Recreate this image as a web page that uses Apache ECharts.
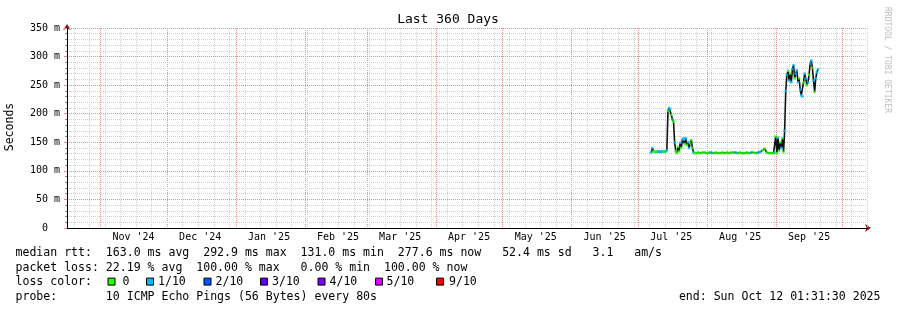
<!DOCTYPE html>
<html><head><meta charset="utf-8">
<script src="https://cdn.jsdelivr.net/npm/echarts@6/dist/echarts.min.js"></script>
<style>html,body{margin:0;padding:0;background:#fff}#c{width:897px;height:310px}</style>
</head><body><div id="c"></div>
<script>
// ---------- data ----------
const rangeStart = '2024-10-17 01:31:30';
const rangeEnd   = '2025-10-12 01:31:30';
const monthStarts = ['2024-11-01 00:00','2024-12-01 00:00','2025-01-01 00:00','2025-02-01 00:00','2025-03-01 00:00','2025-04-01 00:00','2025-05-01 00:00','2025-06-01 00:00','2025-07-01 00:00','2025-08-01 00:00','2025-09-01 00:00','2025-10-01 00:00'];
const monthLabelDates = ['2024-11-16 00:00','2024-12-16 00:00','2025-01-16 00:00','2025-02-16 00:00','2025-03-16 00:00','2025-04-16 00:00','2025-05-16 00:00','2025-06-16 00:00','2025-07-16 00:00','2025-08-16 00:00','2025-09-16 00:00'];
const monthLabels = ["Nov '24","Dec '24","Jan '25","Feb '25","Mar '25","Apr '25","May '25","Jun '25","Jul '25","Aug '25","Sep '25"];
const firstWeekLine = '2024-10-20 00:00';
const yTicks = [0, 50, 100, 150, 200, 250, 300, 350];

const rttTimes = [
 '2025-07-07 00:00','2025-07-07 12:00','2025-07-08 00:00','2025-07-08 12:00','2025-07-09 00:00','2025-07-09 12:00',
 '2025-07-10 00:00','2025-07-10 12:00','2025-07-11 00:00','2025-07-11 12:00','2025-07-12 00:00','2025-07-12 12:00',
 '2025-07-13 00:00','2025-07-13 12:00','2025-07-14 00:00','2025-07-14 12:00','2025-07-15 00:00','2025-07-15 12:00',
 '2025-07-16 00:00','2025-07-16 12:00','2025-07-17 00:00','2025-07-17 12:00','2025-07-18 00:00','2025-07-18 12:00',
 '2025-07-19 00:00','2025-07-19 12:00','2025-07-20 00:00','2025-07-20 12:00','2025-07-21 00:00','2025-07-21 12:00',
 '2025-07-22 00:00','2025-07-22 12:00','2025-07-23 00:00','2025-07-23 12:00','2025-07-24 00:00','2025-07-24 12:00',
 '2025-07-25 00:00','2025-07-25 12:00','2025-07-26 00:00','2025-07-26 12:00',
 '2025-07-27 00:00','2025-07-28 00:00','2025-07-29 00:00','2025-07-30 00:00','2025-07-31 00:00',
 '2025-08-01 00:00','2025-08-02 00:00','2025-08-03 00:00','2025-08-04 00:00','2025-08-05 00:00','2025-08-06 00:00',
 '2025-08-07 00:00','2025-08-08 00:00','2025-08-09 00:00','2025-08-10 00:00','2025-08-11 00:00','2025-08-12 00:00',
 '2025-08-13 00:00','2025-08-14 00:00','2025-08-15 00:00','2025-08-16 00:00','2025-08-17 00:00','2025-08-18 00:00',
 '2025-08-19 00:00','2025-08-20 00:00','2025-08-21 00:00','2025-08-22 00:00','2025-08-23 00:00','2025-08-24 00:00',
 '2025-08-25 00:00','2025-08-26 00:00','2025-08-27 00:00','2025-08-28 00:00','2025-08-29 00:00','2025-08-30 00:00',
 '2025-08-31 00:00','2025-08-31 12:00',
 '2025-09-01 00:00','2025-09-01 12:00','2025-09-02 00:00','2025-09-02 12:00','2025-09-03 00:00','2025-09-03 12:00',
 '2025-09-04 00:00','2025-09-04 12:00','2025-09-05 00:00','2025-09-05 12:00','2025-09-06 00:00','2025-09-06 12:00',
 '2025-09-07 00:00','2025-09-07 12:00','2025-09-08 00:00','2025-09-08 12:00','2025-09-09 00:00','2025-09-09 12:00',
 '2025-09-10 00:00','2025-09-10 12:00','2025-09-11 00:00','2025-09-11 12:00','2025-09-12 00:00','2025-09-12 12:00',
 '2025-09-13 00:00','2025-09-13 12:00','2025-09-14 00:00','2025-09-14 12:00','2025-09-15 00:00','2025-09-15 12:00',
 '2025-09-16 00:00','2025-09-16 12:00','2025-09-17 00:00','2025-09-17 12:00','2025-09-18 00:00','2025-09-18 12:00',
 '2025-09-19 00:00','2025-09-19 12:00','2025-09-20 00:00'
];
// median round-trip time in ms
const rttMedian = [
 132,140,134,134,133,134,
 134,134,133,134,134,133,
 134,134,136,205,210,208,
 198,190,186,150,135,131,
 142,134,149,140,155,157,
 147,157,145,150,140,148,
 154,140,132,131,
 131,132,131,132,132,
 131,132,132,131,132,131,
 131,132,131,132,131,132,
 132,132,131,132,131,131,
 132,131,132,132,131,132,
 133,136,139,132,131,131,
 131,132,
 160,131,158,135,150,140,
 157,133,170,240,268,275,
 258,270,255,278,285,262,
 270,276,255,262,242,232,
 230,255,270,262,250,255,
 268,288,293,280,258,238,
 262,272,278
];
// lost pings out of 10
const rttLoss = [
 1,1,0,0,0,0,
 1,1,1,1,1,0,
 0,1,1,0,1,1,
 0,1,0,1,0,0,
 0,0,1,0,1,1,
 0,1,0,1,1,0,
 0,0,1,0,
 0,0,0,0,0,
 0,0,1,0,0,0,
 0,0,0,0,0,0,
 0,1,0,0,0,0,
 0,0,1,0,0,1,
 1,0,0,0,0,0,
 0,1,
 0,0,1,0,0,1,
 0,0,1,1,1,0,
 1,0,1,1,1,0,
 1,1,1,0,1,1,
 1,0,1,1,0,1,
 0,1,1,0,1,0,
 1,1,1
];
const lossLabels = ['0','1/10','2/10','3/10','4/10','5/10','9/10'];
const lossColors = ['#26ff00','#00b8ff','#0059ff','#5e00ff','#7e00ff','#dd00ff','#ff0000'];
const legendLines = [
 'median rtt:  163.0 ms avg  292.9 ms max  131.0 ms min  277.6 ms now   52.4 ms sd   3.1   am/s',
 'packet loss: 22.19 % avg  100.00 % max   0.00 % min  100.00 % now',
 'loss color:',
 'probe:       10 ICMP Echo Pings (56 Bytes) every 80s'
];
const endText = 'end: Sun Oct 12 01:31:30 2025';
const titleText = 'Last 360 Days';
const yName = 'Seconds';
const watermark = 'RRDTOOL / TOBI OETIKER';

// ---------- build ----------
const ts = s => new Date(s.replace(' ', 'T')).getTime();
const xMin = ts(rangeStart), xMax = ts(rangeEnd);
const monthTs = monthStarts.map(ts);
const labelTs = monthLabelDates.map(ts);
const weekTs = [];
for (let t = ts(firstWeekLine); t < xMax; t += 7 * 86400000) {
  if (!monthTs.some(m => Math.abs(m - t) < 86400000 * 0.6)) weekTs.push(t);
}
const pts = rttTimes.map((t, i) => [ts(t), rttMedian[i], rttLoss[i]]);
const lossIdx = l => (l >= 9 ? 6 : Math.min(l, 5));

const MONO = '"DejaVu Sans Mono", monospace';
const gridRed = '#f08a8a';
const gridGray = '#cfcfcf';
const arrowRed = '#8e1b1b';

const chart = echarts.init(document.getElementById('c'), null, {renderer: 'canvas'});

const legendY = [253.3, 268.3, 281.6, 296.6];
const boxX = [107.5, 146, 203.5, 260, 317.5, 375, 436];
const boxTextX = [122.5, 158, 215.5, 272, 329.5, 386.5, 449];
const graphics = [];
legendLines.forEach((s, i) => graphics.push({type: 'text', x: 15.5, y: legendY[i], style: {text: s, font: '11.55px ' + MONO, fill: '#000', textVerticalAlign: 'middle'}}));
lossLabels.forEach((s, i) => {
  graphics.push({type: 'rect', shape: {x: boxX[i] + 0.5, y: legendY[2] - 3.5, width: 7, height: 7}, style: {fill: lossColors[i], stroke: '#000', lineWidth: 1}});
  graphics.push({type: 'text', x: boxTextX[i], y: legendY[2], style: {text: s, font: '11.55px ' + MONO, fill: '#000', textVerticalAlign: 'middle'}});
});
graphics.push({type: 'text', x: 880.5, y: legendY[3], style: {text: endText, font: '11.55px ' + MONO, fill: '#000', textAlign: 'right', textVerticalAlign: 'middle'}});
graphics.push({type: 'text', x: 448, y: 19.5, style: {text: titleText, font: '13px ' + MONO, fill: '#000', textAlign: 'center', textVerticalAlign: 'middle'}});
graphics.push({type: 'text', x: 10.5, y: 127, rotation: Math.PI / 2, style: {text: yName, font: '11.5px ' + MONO, fill: '#000', textAlign: 'center', textVerticalAlign: 'middle'}});
graphics.push({type: 'text', x: 887.5, y: 60, rotation: -Math.PI / 2, style: {text: watermark, font: '8px ' + MONO, fill: '#c0c0c0', textAlign: 'center', textVerticalAlign: 'middle'}});

const hidden = {axisLabel: {show: false}, axisTick: {show: false}, splitLine: {show: false}};

// vertical grid line drawn through the axis scale
const vLine = color => (params, api) => {
  const top = api.coord([api.value(0), 350]);
  const bot = api.coord([api.value(0), 0]);
  const x = Math.round(top[0]) + 0.5;
  return {type: 'line', silent: true,
    shape: {x1: x, y1: top[1], x2: x, y2: bot[1]},
    style: {stroke: color, lineWidth: 1, lineDash: [1, 1]}};
};

chart.setOption({
  animation: false,
  backgroundColor: '#fff',
  grid: {left: 67, top: 28, width: 800, height: 200, containLabel: false},
  xAxis: [
    Object.assign({type: 'value', min: xMin, max: xMax, position: 'bottom', z: 0,
      axisLine: {show: true, symbol: ['none', 'arrow'], symbolSize: [6, 6], symbolOffset: [0, 4], lineStyle: {color: arrowRed, width: 1}}}, hidden),
    {type: 'value', min: xMin, max: xMax, position: 'bottom', z: 2,
      axisLine: {show: true, lineStyle: {color: '#000', width: 1}},
      axisTick: {show: false},
      splitLine: {show: false},
      axisLabel: {show: true, customValues: labelTs, margin: 4, fontFamily: MONO, fontSize: 10, color: '#000',
        formatter: v => { const i = labelTs.indexOf(v); return i >= 0 ? monthLabels[i] : ''; }}}
  ],
  yAxis: [
    Object.assign({type: 'value', min: 0, max: 350, interval: 50, position: 'left', z: 0,
      axisLine: {show: true, symbol: ['none', 'arrow'], symbolSize: [6, 6], symbolOffset: [0, 4], lineStyle: {color: arrowRed, width: 1}}}, hidden),
    {type: 'value', min: 0, max: 350, interval: 50, position: 'left', z: 2,
      axisLine: {show: true, lineStyle: {color: '#000', width: 1}},
      axisTick: {show: true, length: 3, lineStyle: {color: gridRed}},
      minorTick: {show: true, splitNumber: 5, length: 2, lineStyle: {color: '#888'}},
      splitLine: {show: true, lineStyle: {color: gridRed, type: [1, 1], width: 1}},
      minorSplitLine: {show: true, lineStyle: {color: gridGray, type: [1, 1], width: 1}},
      axisLabel: {show: true, margin: 7, fontFamily: MONO, fontSize: 10, color: '#000',
        customValues: yTicks,
        formatter: v => v === 0 ? '0  ' : v + ' m'}}
  ],
  series: [
    {type: 'custom', xAxisIndex: 1, yAxisIndex: 1, z: 1, silent: true,
      data: weekTs.map(t => [t]), encode: {x: 0}, renderItem: vLine(gridGray)},
    {type: 'custom', xAxisIndex: 1, yAxisIndex: 1, z: 1, silent: true,
      data: monthTs.map(t => [t]), encode: {x: 0}, renderItem: vLine(gridRed)},
    {type: 'line', xAxisIndex: 1, yAxisIndex: 1, data: pts.map(p => [p[0], p[1]]), showSymbol: false, z: 3,
      lineStyle: {color: '#111', width: 1.6}},
    {type: 'scatter', xAxisIndex: 1, yAxisIndex: 1, data: pts, symbol: 'rect', symbolSize: [2.5, 2.6], z: 4,
      itemStyle: {color: p => lossColors[lossIdx(p.value[2])]}}
  ],
  graphic: {elements: graphics}
});
</script></body></html>
